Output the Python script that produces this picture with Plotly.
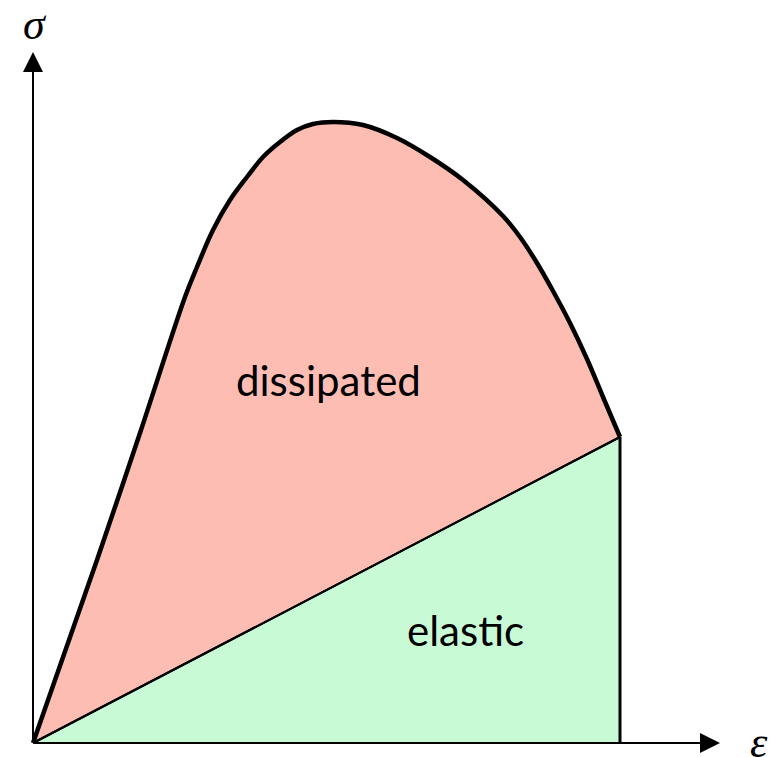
import plotly.graph_objects as go

# stress-strain curve (arbitrary units: strain, stress)
strain = [0, 64, 107, 152, 164, 180, 197, 214, 230, 247, 264, 280, 300, 330, 364, 397, 430, 470, 487, 504, 520, 537, 554, 570, 587]
stress = [0, 183, 310, 446, 476, 513, 543, 566, 586, 601, 613, 619, 621, 618, 605, 586, 563, 527, 506, 480, 452, 420, 384, 346, 306]

# unloading (elastic) end point
end_strain = strain[-1]
end_stress = stress[-1]

red_fill = "rgb(253,189,179)"
green_fill = "rgb(201,250,214)"

fig = go.Figure()

# elastic triangle
fig.add_trace(go.Scatter(
    x=[0, end_strain, end_strain, 0], y=[0, end_stress, 0, 0],
    fill="toself", fillcolor=green_fill, mode="lines",
    line=dict(color="rgba(0,0,0,0)", width=0), hoverinfo="skip", showlegend=False))

# elastic line (base for dissipated fill)
fig.add_trace(go.Scatter(
    x=[0, end_strain], y=[0, end_stress], mode="lines",
    line=dict(color="black", width=2), hoverinfo="skip", showlegend=False))

# dissipated region: area between curve and elastic line
fig.add_trace(go.Scatter(
    x=strain, y=stress, mode="lines", fill="tonexty", fillcolor=red_fill,
    line=dict(color="black", width=4.5, shape="spline", smoothing=1.0),
    hoverinfo="skip", showlegend=False))

# redraw elastic line on top
fig.add_trace(go.Scatter(
    x=[0, end_strain], y=[0, end_stress], mode="lines",
    line=dict(color="black", width=2), hoverinfo="skip", showlegend=False))

# vertical unloading line
fig.add_trace(go.Scatter(
    x=[end_strain, end_strain], y=[end_stress, 0], mode="lines",
    line=dict(color="black", width=3), hoverinfo="skip", showlegend=False))

# axes with arrows
fig.add_annotation(x=0, y=691, ax=0, ay=0, xref="x", yref="y", axref="x", ayref="y",
                   showarrow=True, arrowhead=2, arrowsize=2, arrowwidth=2, arrowcolor="black", text="")
fig.add_annotation(x=687, y=0, ax=0, ay=0, xref="x", yref="y", axref="x", ayref="y",
                   showarrow=True, arrowhead=2, arrowsize=2, arrowwidth=2, arrowcolor="black", text="")

fig.add_annotation(x=2, y=719, xref="x", yref="y", text="σ", showarrow=False,
                   font=dict(family="Liberation Serif", size=44, color="black", style="italic"))
fig.add_annotation(x=726, y=1, xref="x", yref="y", text="ε", showarrow=False,
                   font=dict(family="Liberation Serif", size=44, color="black", style="italic"))

fig.add_annotation(x=295, y=363, xref="x", yref="y", text="dissipated", showarrow=False,
                   font=dict(family="Lato", size=42, color="black"))
fig.add_annotation(x=432, y=113, xref="x", yref="y", text="elastic", showarrow=False,
                   font=dict(family="Lato", size=42, color="black"))

fig.update_layout(
    width=773, height=749,
    margin=dict(l=0, r=0, t=0, b=0),
    paper_bgcolor="white", plot_bgcolor="white",
    xaxis=dict(range=[-25, 748], visible=False, fixedrange=True),
    yaxis=dict(range=[-14, 735], visible=False, fixedrange=True),
    showlegend=False,
)

fig.write_html("out.html")
